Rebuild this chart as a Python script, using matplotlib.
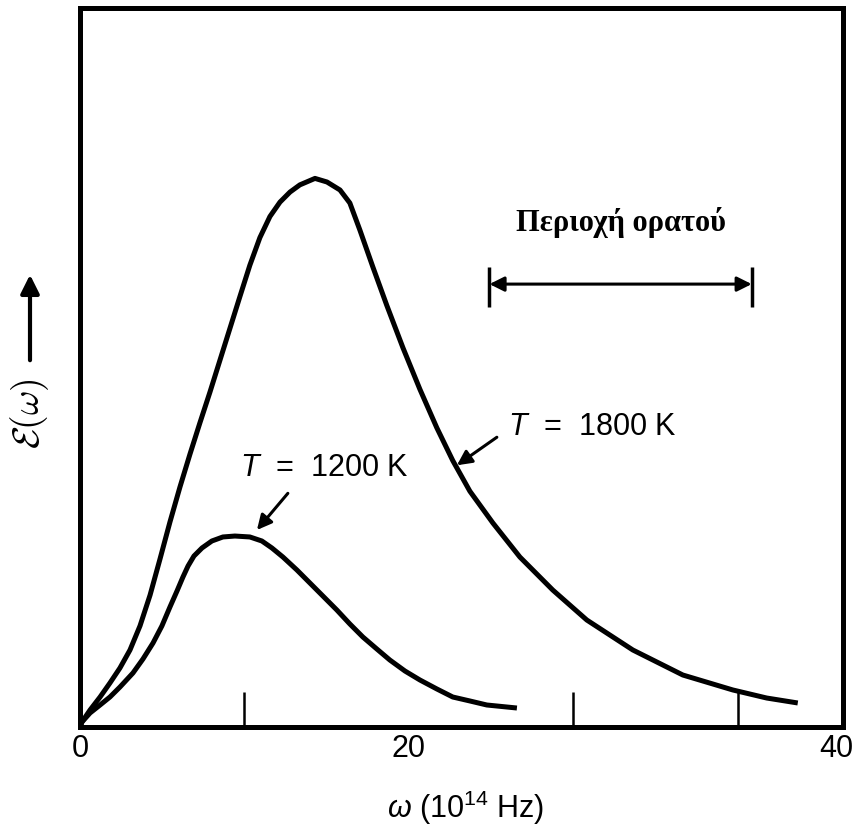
import matplotlib
matplotlib.use('Agg')
import matplotlib.pyplot as plt

plt.rcParams['font.family'] = ['Liberation Sans', 'DejaVu Sans']
plt.rcParams['mathtext.fontset'] = 'custom'
plt.rcParams['mathtext.rm'] = 'Liberation Sans'
plt.rcParams['mathtext.it'] = 'Liberation Sans:italic'

# Curves (omega in 10^14 Hz, E in arbitrary units)
w_1800 = [0.0, 0.12, 0.61, 1.22, 1.82, 2.43, 3.04, 3.65, 4.26, 4.86, 5.47, 6.08, 6.69,
          7.29, 7.90, 8.51, 9.12, 9.73, 10.33, 10.94, 11.55, 12.16, 12.77, 13.37,
          14.29, 15.02, 15.81, 16.41, 17.02, 17.81, 18.66, 19.64, 20.67, 21.70,
          22.67, 23.71, 25.11, 26.75, 28.75, 30.82, 33.62, 36.66, 39.70, 41.76, 43.65]
e_1800 = [0.0, 0.70, 2.36, 4.17, 6.12, 8.21, 10.71, 14.07, 18.34, 23.32, 28.51, 33.39, 37.97,
          42.29, 46.56, 51.01, 55.46, 59.91, 64.23, 68.07, 71.00, 73.00, 74.40, 75.40,
          76.30, 75.80, 74.69, 72.88, 69.12, 63.98, 58.62, 52.74, 46.97, 41.61,
          37.05, 32.79, 28.37, 23.64, 19.05, 14.88, 10.71, 7.23, 5.15, 4.03, 3.34]

w_1200 = [0.0, 0.12, 0.61, 1.22, 1.82, 2.43, 3.22, 3.83, 4.44, 4.98, 5.47, 5.90, 6.26,
          6.57, 6.93, 7.42, 8.02, 8.69, 9.42, 10.33, 11.06, 11.67, 12.34, 13.19, 13.98,
          14.77, 15.62, 16.41, 17.20, 18.05, 18.84, 19.76, 20.67, 21.70, 22.67, 23.71,
          24.74, 26.57]
e_1200 = [0.0, 0.70, 1.95, 3.06, 4.17, 5.56, 7.51, 9.46, 11.68, 14.05, 16.69, 18.92, 20.86,
          22.39, 23.78, 24.90, 25.87, 26.43, 26.56, 26.43, 25.87, 24.90, 23.64, 21.84, 20.03,
          18.22, 16.27, 14.33, 12.52, 10.85, 9.32, 7.79, 6.54, 5.29, 4.17, 3.62,
          3.06, 2.64]

# visible region (same units)
vis_lo, vis_hi = 24.9, 40.85

minor_ticks = [10, 20, 30, 40]
tick_pos = [0, 20, 46.0]
tick_lab = ['0', '20', '40']

fig = plt.figure(figsize=(8.6, 8.3), dpi=100)
ax = fig.add_axes([80 / 860, 103 / 830, 763 / 860, 719 / 830])

ax.plot(w_1800, e_1800, color='k', lw=3.6, solid_capstyle='butt', solid_joinstyle='round')
ax.plot(w_1200, e_1200, color='k', lw=3.6, solid_capstyle='butt', solid_joinstyle='round')

ax.set_xlim(0, 46.4)
ax.set_ylim(0, 100)
ax.set_yticks([])
ax.set_xticks(tick_pos, tick_lab)
ax.set_xticks(minor_ticks, minor=True)
ax.tick_params(axis='x', which='major', length=0, pad=5, labelsize=22)
ax.tick_params(axis='x', which='minor', direction='in', length=25, width=1.8)
for sp in ax.spines.values():
    sp.set_linewidth(3.6)

ax.set_xlabel(r'$\omega$ (10$^{14}$ Hz)', fontsize=22)
ax.xaxis.set_label_coords(0.505, -0.113)
ax.xaxis.label.set_va('center')

# y label with arrow
fig.text(30 / 860, 0.502, r'$\mathcal{E}(\omega)$', rotation=90, fontsize=27,
         ha='center', va='center', math_fontfamily='cm')
ax.annotate('', xy=(30 / 860, 0.669), xytext=(30 / 860, 0.566),
            xycoords='figure fraction', textcoords='figure fraction',
            arrowprops=dict(arrowstyle='-|>', lw=3, color='k', mutation_scale=28,
                            shrinkA=0, shrinkB=0))

# curve labels
ax.annotate('', xy=(22.92, 36.4), xytext=(25.35, 40.3),
            arrowprops=dict(arrowstyle='-|>', lw=2.2, color='k', mutation_scale=22,
                            shrinkA=0, shrinkB=0))
ax.text(26.0, 41.7, r'$T$  =  1800 K', fontsize=22, ha='left', va='center')

ax.annotate('', xy=(10.76, 27.4), xytext=(12.64, 32.5),
            arrowprops=dict(arrowstyle='-|>', lw=2.2, color='k', mutation_scale=22,
                            shrinkA=0, shrinkB=0))
ax.text(9.73, 36.0, r'$T$  =  1200 K', fontsize=22, ha='left', va='center')

# visible region marker
ax.annotate('', xy=(vis_lo, 61.6), xytext=(vis_hi, 61.6),
            arrowprops=dict(arrowstyle='<|-|>', lw=2.2, color='k', mutation_scale=22,
                            shrinkA=0, shrinkB=0))
ax.vlines([vis_lo, vis_hi], 58.4, 64.0, color='k', lw=2.5)
ax.text((vis_lo + vis_hi) / 2, 70.2, 'Περιοχή ορατού', fontsize=22, fontweight='bold',
        family=['Liberation Serif', 'DejaVu Serif'], ha='center', va='center')

fig.savefig('out.png', dpi=100)
